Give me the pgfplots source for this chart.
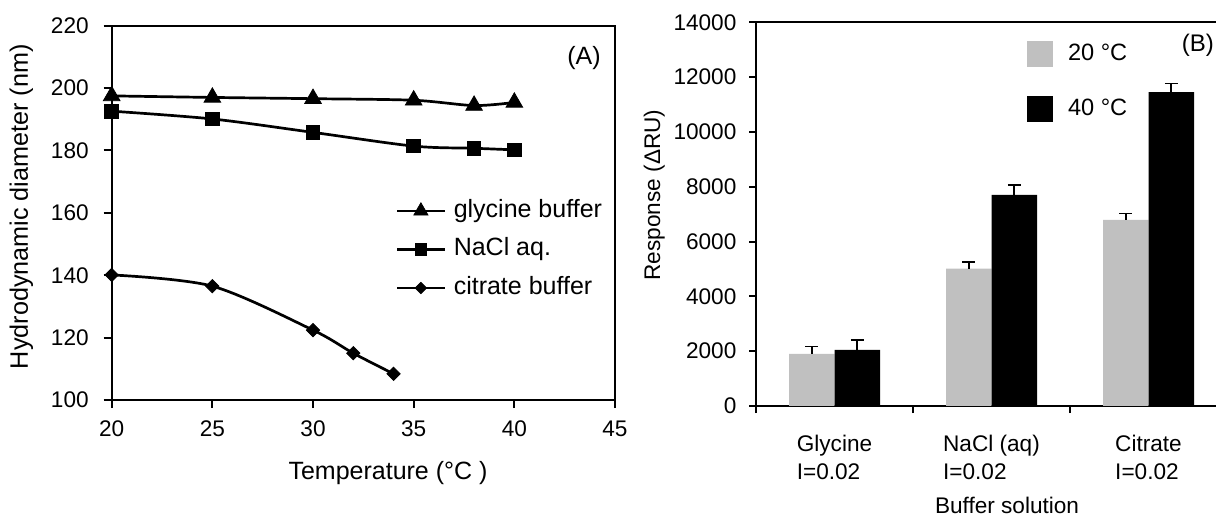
\documentclass[border=0pt]{standalone}
\usepackage{pgfplots}
\pgfplotsset{compat=1.18}
\usepackage{fontspec}
\setmainfont{Liberation Sans}
\definecolor{lightbar}{RGB}{192,192,192}
\begin{document}
\begin{tikzpicture}
\clip (0bp,0bp) rectangle (608bp,258bp);
% ---------------- (A) ----------------
\begin{axis}[
  at={(55.85bp,58bp)}, anchor=south west,
  scale only axis, width=251.65bp, height=187.15bp,
  xmin=20, xmax=45, ymin=100, ymax=220,
  xtick={20,25,30,35,40,45}, ytick={100,120,140,160,180,200,220},
  tick pos=left, tick align=outside, major tick length=4bp,
  axis line style={line width=1bp},
  tick style={line width=1bp, black},
  /pgf/number format/assume math mode=true,
  ticklabel style={font=\fontsize{11.3bp}{13bp}\selectfont},
  xticklabel style={yshift=-2.8bp},
  yticklabel style={xshift=-4bp},
  xlabel={Temperature (°C )},
  ylabel={Hydrodynamic diameter (nm)},
  every axis x label/.style={at={(rel axis cs:0.549,-0.2137)}, anchor=base, font=\fontsize{12.5bp}{15bp}\selectfont},
  every axis y label/.style={at={(rel axis cs:-0.1663,0.5164)}, rotate=90, anchor=base, font=\fontsize{12.6bp}{15bp}\selectfont},
  legend style={at={(0.565,0.536)}, anchor=north west, draw=none, fill=none, inner sep=0pt, outer sep=0pt,
     font=\fontsize{12.5bp}{15bp}\selectfont, row sep=7.65bp,
     nodes={inner sep=0pt, text height=9bp, text depth=2.6bp},
     /tikz/every odd column/.style={column sep=4bp}},
  legend cell align=left,
  legend image code/.code={\draw[#1, mark repeat=2, mark phase=2, every mark/.append style={scale=0.85}] plot coordinates {(0bp,0bp) (11.75bp,0bp) (23.5bp,0bp)};},
]
\addplot[black, line width=1.35bp, smooth, tension=0.5, mark=triangle*, mark size=4.8bp, mark options={line width=0.4bp}]
  coordinates {(20,197.5) (25,197.0) (30,196.6) (35,196.1) (38,194.4) (40,195.4)};
\addlegendentry{glycine buffer}
\addplot[black, line width=1.35bp, smooth, tension=0.5, mark=square*, mark size=3.4bp, mark options={line width=0.4bp}]
  coordinates {(20,192.6) (25,190.1) (30,185.8) (35,181.4) (38,180.7) (40,180.2)};
\addlegendentry{NaCl aq.}
\addplot[black, line width=1.35bp, smooth, tension=0.5, mark=square*, mark size=2.35bp, mark options={line width=0.4bp, rotate=45}]
  coordinates {(20,140.1) (25,136.5) (30,122.4) (32,115.0) (34,108.4)};
\addlegendentry{citrate buffer}
\node[font=\fontsize{12.5bp}{15bp}\selectfont] at (rel axis cs:0.9385,0.9137) {(A)};
\end{axis}
% ---------------- (B) ----------------
\begin{axis}[
  at={(378bp,55bp)}, anchor=south west,
  scale only axis, width=235.5bp, height=191.85bp,
  xmin=-0.5, xmax=2.5, ymin=0, ymax=14000,
  ybar=0pt, bar width=22.75bp,
  tick pos=left, tick align=outside, major tick length=3.5bp,
  axis line style={line width=1bp},
  tick style={line width=1bp, black},
  ytick={0,2000,4000,6000,8000,10000,12000,14000}, scaled y ticks=false,
  /pgf/number format/assume math mode=true,
  yticklabel style={/pgf/number format/set thousands separator={}, xshift=-2.8bp, font=\fontsize{11.3bp}{13bp}\selectfont},
  xtick={-0.5,0.5,1.5},
  xticklabels={{Glycine\\I=0.02},{NaCl (aq)\\I=0.02},{Citrate\\I=0.02}},
  xticklabel style={align=left, font=\fontsize{11.3bp}{13.75bp}\selectfont, anchor=north, inner sep=0pt, xshift=39.25bp, yshift=-11bp},
  xlabel={Buffer solution},
  ylabel={Response (ΔRU)},
  every axis x label/.style={at={(rel axis cs:0.533,-0.2789)}, anchor=base, font=\fontsize{11.3bp}{13.75bp}\selectfont},
  every axis y label/.style={at={(rel axis cs:-0.2038,0.55)}, rotate=90, anchor=base, font=\fontsize{11.3bp}{13.75bp}\selectfont},
  legend style={at={(0.5754,0.9513)}, anchor=north west, draw=none, fill=none, inner sep=0pt, outer sep=0pt,
     font=\fontsize{11.8bp}{14bp}\selectfont, row sep=14.5bp,
     nodes={inner sep=0pt},
     /tikz/every odd column/.style={column sep=7.5bp}},
  legend cell align=left,
  legend image code/.code={\draw[#1,draw=none] (0bp,-6.5bp) rectangle (13bp,6.5bp);},
]
\addplot[fill=lightbar, draw=none,
  error bars/.cd, y dir=plus, y explicit,
  error bar style={draw=black, line width=0.8bp},
  error mark options={rotate=90, draw=black, line width=0.7bp, mark size=3.25bp}]
  coordinates {(0,1900) +- (0,265) (1,5010) +- (0,245) (2,6790) +- (0,230)};
\addlegendentry{20 °C}
\addplot[fill=black, draw=none,
  error bars/.cd, y dir=plus, y explicit,
  error bar style={draw=black, line width=0.8bp},
  error mark options={rotate=90, draw=black, line width=0.7bp, mark size=3.25bp}]
  coordinates {(0,2045) +- (0,365) (1,7700) +- (0,365) (2,11450) +- (0,315)};
\addlegendentry{40 °C}
\node[font=\fontsize{12bp}{14bp}\selectfont] at (rel axis cs:0.9384,0.9408) {(B)};
\end{axis}
\end{tikzpicture}
\end{document}
